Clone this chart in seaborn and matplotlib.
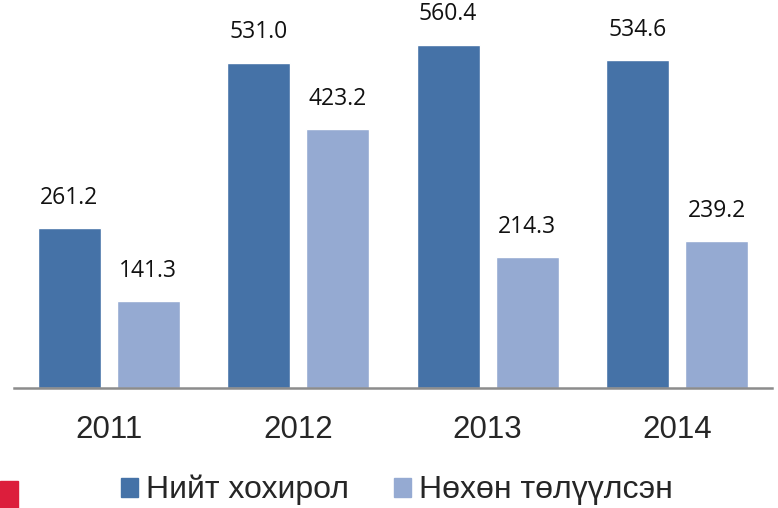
import pandas as pd
import matplotlib
matplotlib.use("Agg")
import matplotlib.pyplot as plt
import matplotlib.patches as mpatches
import seaborn as sns

# Chart data
years = ["2011", "2012", "2013", "2014"]
total = [261.2, 531.0, 560.4, 534.6]
recovered = [141.3, 423.2, 214.3, 239.2]
series_names = ["Нийт хохирол", "Нөхөн төлүүлсэн"]
colors = ["#4572A7", "#95AAD2"]

df = pd.DataFrame({
    "year": years * 2,
    "value": total + recovered,
    "series": [series_names[0]] * len(years) + [series_names[1]] * len(years),
})

sns.set_style("white")
plt.rcParams["font.family"] = ["Liberation Sans", "DejaVu Sans"]

fig = plt.figure(figsize=(7.78, 5.08), dpi=100)
ax = fig.add_axes([0.018, 0.236, 0.974, 0.764])

sns.barplot(data=df, x="year", y="value", hue="series", palette=colors,
            width=0.834, gap=0.2, saturation=1, legend=False, ax=ax)

# Value labels above bars
for cont in ax.containers:
    ax.bar_label(cont, fmt="%.1f", padding=13, fontsize=16.5,
                 family=["Open Sans", "DejaVu Sans"], color="#111111")

ax.set_xlim(-0.5, 3.5)
ax.set_ylim(0, 633)
ax.set_xlabel("")
ax.set_ylabel("")
ax.set_yticks([])
ax.tick_params(axis="x", length=0, labelsize=22.5, pad=19)
for s in ["top", "right", "left"]:
    ax.spines[s].set_visible(False)
ax.spines["bottom"].set_color("#8c8c8c")
ax.spines["bottom"].set_linewidth(1.8)

# Legend at the bottom
handles = [mpatches.Patch(color=c, label=n) for c, n in zip(colors, series_names)]
fig.legend(handles=handles, loc="center", bbox_to_anchor=(0.51, 0.035),
           ncol=2, frameon=False, fontsize=23, handlelength=0.53,
           handleheight=0.53, handletextpad=0.25, columnspacing=1.4)

# Red corner mark
fig.patches.append(mpatches.Rectangle((0, 0), 18 / 778, 27 / 508,
                                      transform=fig.transFigure,
                                      color="#DC1E3C", zorder=5))

fig.savefig("out.png", dpi=100)
